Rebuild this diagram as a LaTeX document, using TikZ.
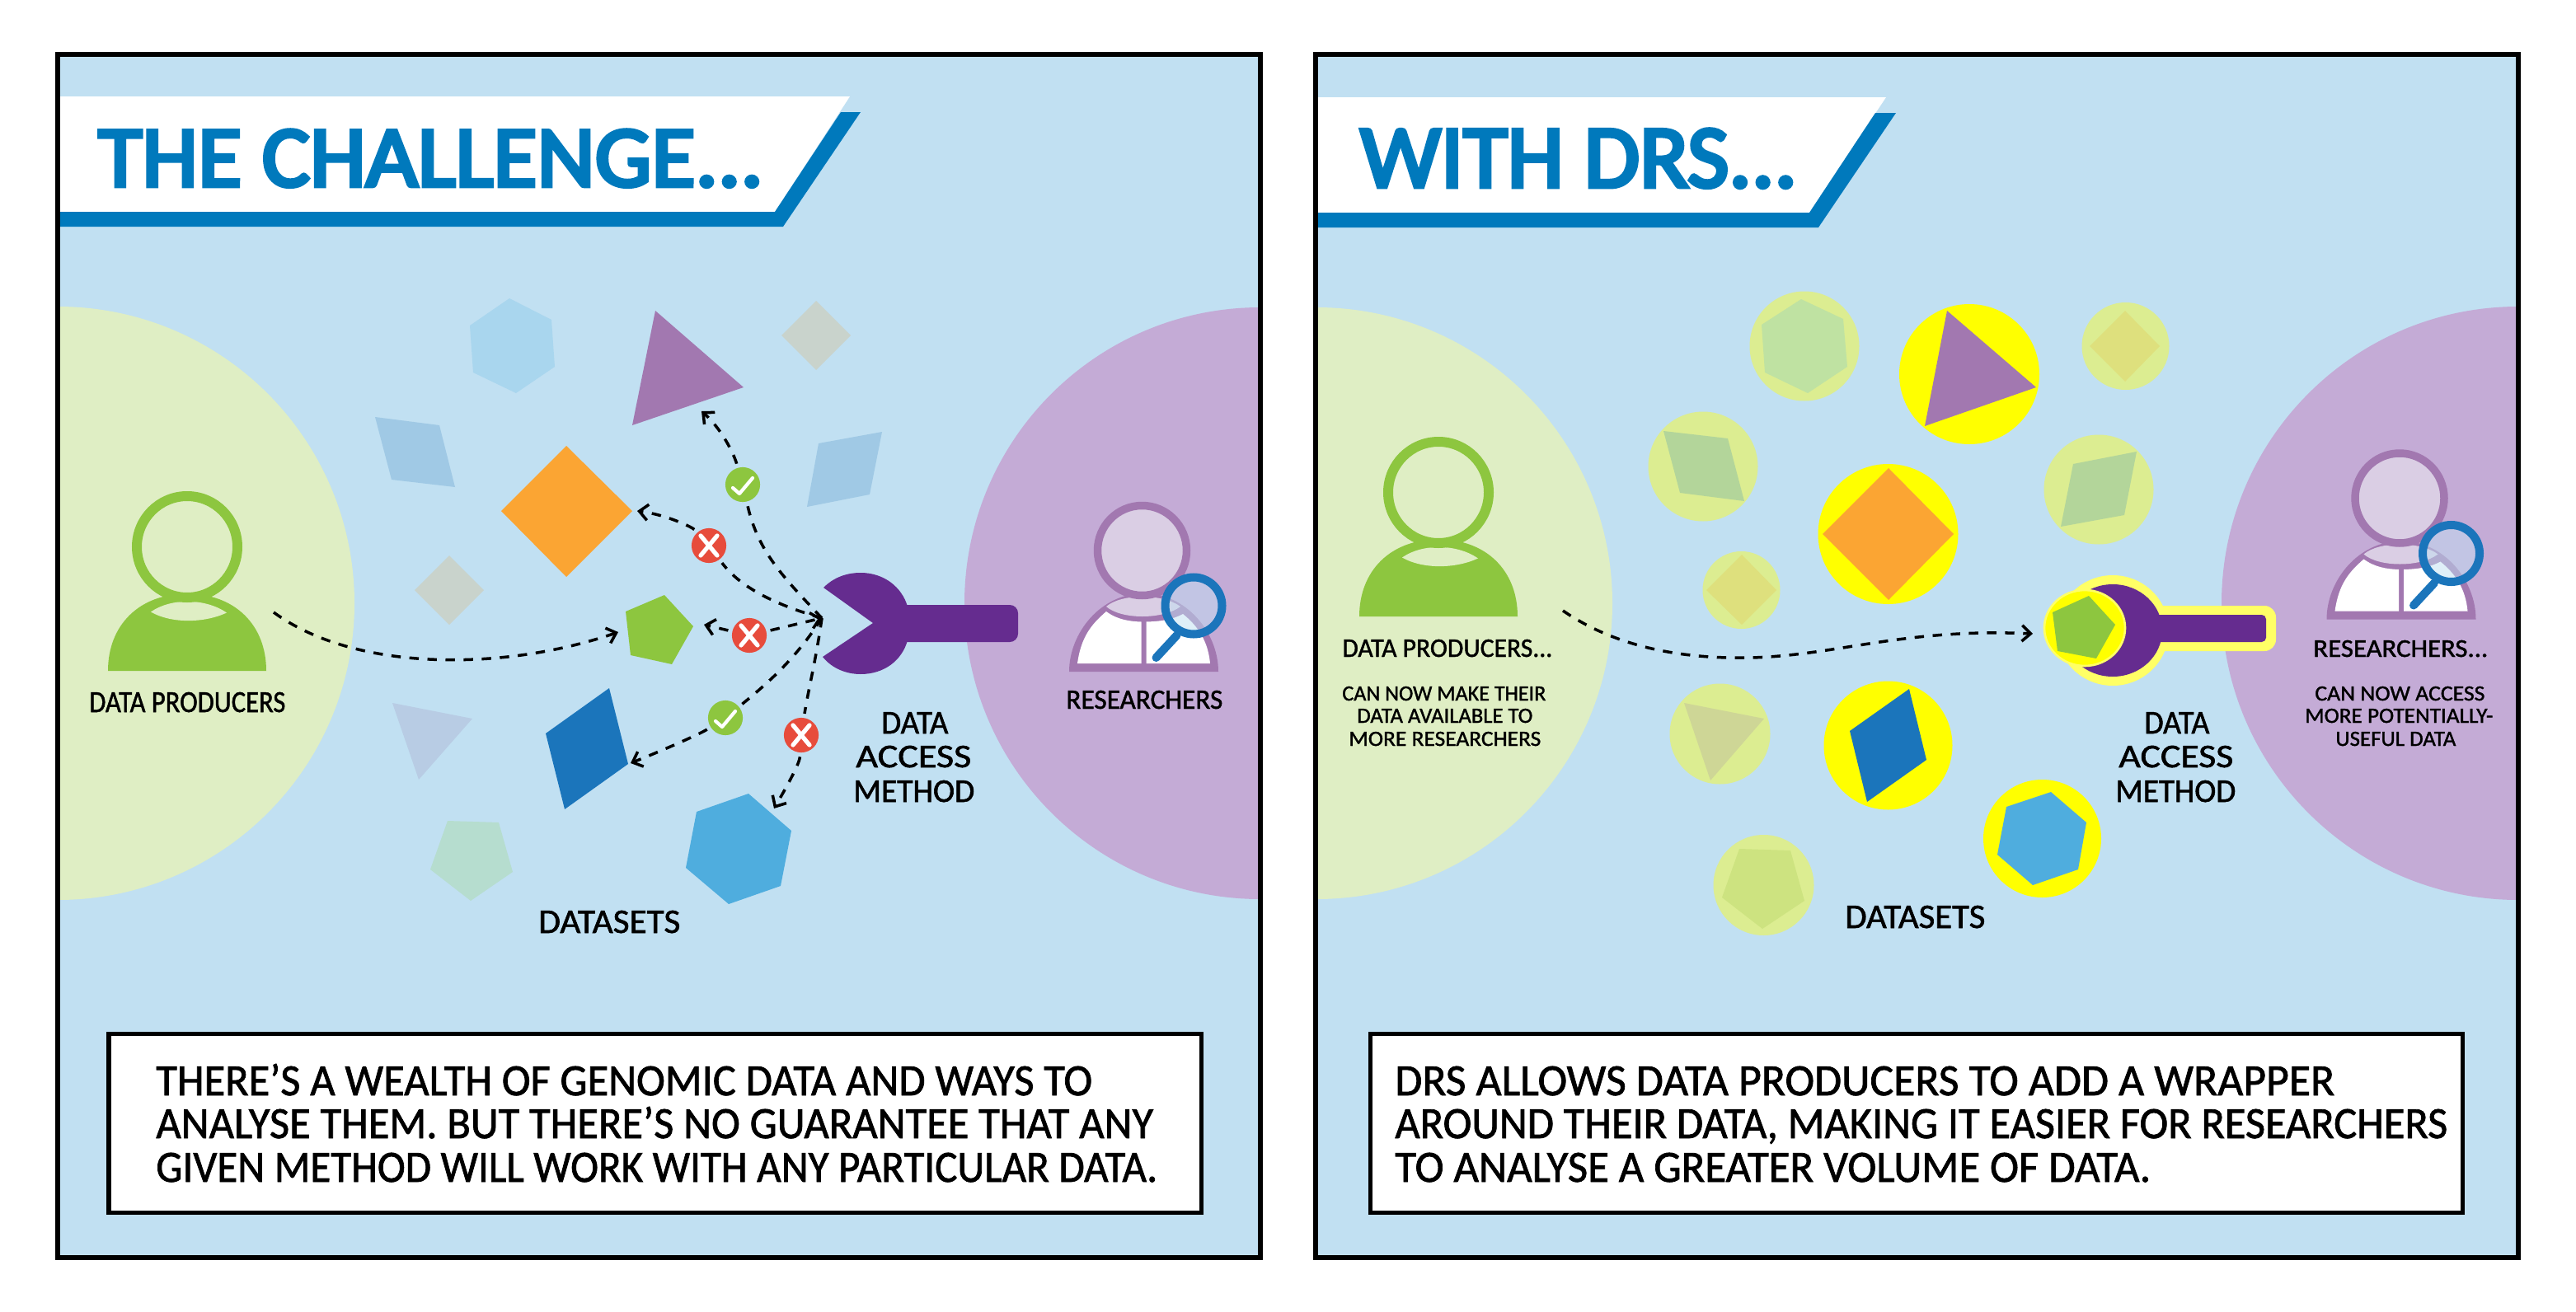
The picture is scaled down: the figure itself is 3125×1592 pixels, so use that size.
\documentclass[tikz,border=0pt]{standalone}
\usepackage{fontspec}
\usepackage{graphicx}
\usetikzlibrary{arrows.meta,calc}
\newfontfamily\titlefont[FakeBold=4.5]{Carlito}
\newfontfamily\labelfont[FakeBold=1.4]{Carlito}
\newdimen\ux \ux=0.56906pt
\newdimen\fsz
\definecolor{panelbg}{HTML}{C1E0F2}
\definecolor{barblue}{HTML}{0079BC}
\definecolor{greenzone}{HTML}{DFEEC4}
\definecolor{purplezone}{HTML}{C4ABD6}
\definecolor{prodgreen}{HTML}{8DC63F}
\definecolor{respurple}{HTML}{A278B0}
\definecolor{reslight}{HTML}{DACEE4}
\definecolor{lensblue}{HTML}{1B75BB}
\definecolor{wrenchc}{HTML}{652C8F}
\definecolor{orangec}{HTML}{FBA533}
\definecolor{hexc}{HTML}{4FADDE}
\definecolor{paleblue}{HTML}{A9D6EE}
\definecolor{palepara}{HTML}{A0C9E5}
\definecolor{palegrey}{HTML}{C9D3CC}
\definecolor{paletri}{HTML}{B8CCE4}
\definecolor{palepent}{HTML}{B6DDCF}
\definecolor{haloweak}{HTML}{DCED91}
\definecolor{halopale}{HTML}{FFFF66}
\definecolor{halofull}{HTML}{FFFF00}
\definecolor{errred}{HTML}{E74C3C}
\definecolor{wkhex}{HTML}{BFE2A2}
\definecolor{wkdia}{HTML}{DEE07D}
\definecolor{wkpara}{HTML}{B3D59A}
\definecolor{wktri}{HTML}{CED696}
\definecolor{wkpent}{HTML}{CDE380}
\newcommand\lab[4]{{\fsz=#2\ux \fsz=1.55\fsz
  \resizebox{#3\ux}{\height}{#1\fontsize{\the\fsz}{\the\fsz}\selectfont #4}}}
\newcommand\tx[6]{\node[anchor=base west,inner sep=0pt] (#1) at (#2,#3) {\lab{\labelfont}{#4}{#5}{#6}};}
\newcommand\producer[2]{\begin{scope}[shift={(#1,#2)}]
  \fill[prodgreen] (-96,150.5) .. controls (-96,95) and (-58,57) .. (0,57) .. controls (58,57) and (96,95) .. (96,150.5) -- cycle;
  \fill[greenzone] (-44,79) .. controls (-20,62) and (22,62) .. (48,80) .. controls (20,93) and (-20,93) .. cycle;
  \draw[prodgreen,line width=6.83pt,fill=greenzone] (0,0) ellipse [x radius=61,y radius=61.5];
\end{scope}}
\newcommand\researcher[2]{\begin{scope}[shift={(#1,#2)}]
  \fill[respurple] (-88.5,147) .. controls (-88.5,100) and (-50,52) .. (2,52) .. controls (54,52) and (92.5,100) .. (92.5,147) -- cycle;
  \fill[white] (-78.5,137) .. controls (-74,105) and (-62,90) .. (-43.5,74) .. controls (-30,84) and (-15,86) .. (-1,86.5) -- (-1,137) -- cycle;
  \fill[white] (5,86.5) .. controls (22,86) and (37,84) .. (49.5,77) .. controls (68,92) and (80,110) .. (82.5,137) -- (5,137) -- cycle;
  \fill[reslight] (-43.5,68) .. controls (-25,52) and (25,52) .. (46.5,68) .. controls (25,84) and (-25,84) .. cycle;
  \draw[respurple,line width=5.4pt,fill=reslight] (0,0) ellipse [x radius=54,y radius=54.5];
  \draw[lensblue,line width=5.7pt,line cap=round] (42,103) -- (17,130);
  \fill[panelbg,opacity=.5] (62.5,67) circle [radius=35];
  \draw[lensblue,line width=5.7pt] (62.5,67) ellipse [x radius=34.5,y radius=34.5];
\end{scope}}
\newcommand\chk[1]{\draw[white,line width=2.4pt,line cap=round,line join=round] ($(#1)+(-12,4)$) -- ($(#1)+(-4,11)$) -- ($(#1)+(12,-8)$);}
\newcommand\crs[1]{\draw[white,line width=3pt,line cap=round] ($(#1)+(-10,-12)$) -- ($(#1)+(10,12)$) ($(#1)+(10,-12)$) -- ($(#1)+(-10,12)$);}
\tikzset{
  badge/.style={circle,inner sep=0pt,minimum size=24pt,outer sep=3pt},
  okbadge/.style={badge,fill=prodgreen},
  nobadge/.style={badge,fill=errred},
  dashline/.style={draw=black,line width=2pt,dash pattern=on 6.5pt off 6pt},
  dasharrow/.style={dashline,-{Straight Barb[length=6pt,width=11pt,line width=2pt]}},
  framebox/.style={draw=black,line width=3.6pt},
  textbox/.style={draw=black,line width=2.85pt,fill=white,anchor=north west,inner sep=0pt,outer sep=0pt,minimum height=124pt,minimum width=754.5pt},
}
\begin{document}
\begin{tikzpicture}[x=0.02cm,y=-0.02cm]
\useasboundingbox (0,0) rectangle (3125,1592);
\fill[white] (0,0) rectangle (3125,1592);

%% ========== LEFT PANEL ==========
\fill[panelbg] (70,66) rectangle (1529,1526);
\begin{scope}
\clip (70,66) rectangle (1529,1526);
\fill[greenzone] (70,732) circle [radius=360];
\fill[purplezone] (1529,732) circle [radius=359];
\end{scope}
% banner
\fill[white] (73,117) -- (1031,117) -- (940,257) -- (73,257) -- cycle;
\fill[barblue] (73,257) -- (940,257) -- (1020,136) -- (1044,136) -- (950,275) -- (73,275) -- cycle;
\node[anchor=base west,inner sep=0pt,text=barblue] (titleL) at (119,226) {\lab{\titlefont}{68}{807}{THE CHALLENGE...}};
% pale datasets
\fill[paleblue] (618,362) -- (669,388) -- (673,445) -- (626,477) -- (574,452) -- (570,395) -- cycle;
\fill[palegrey] (990,365) -- (1032,407) -- (990,449) -- (948,407) -- cycle;
\fill[palepara] (455,506) -- (533,516) -- (552,591) -- (475,582) -- cycle;
\fill[palepara] (993,538) -- (1070,524) -- (1055,600) -- (979,615) -- cycle;
\fill[palegrey] (545,674) -- (587,716) -- (545,758) -- (503,716) -- cycle;
\fill[paletri] (476,853) -- (573,872) -- (508,946) -- cycle;
\fill[palepent] (543,996) -- (605,998) -- (622,1058) -- (571,1093) -- (522,1055) -- cycle;
% vivid datasets
\fill[respurple] (795,377) -- (902,470) -- (767,516) -- cycle;
\fill[orangec] (687,541) -- (767,620) -- (687,700) -- (608,620) -- cycle;
\fill[prodgreen] (759,742) -- (806,722) -- (841,760) -- (815,806) -- (765,795) -- cycle;
\fill[lensblue] (739,835) -- (762,927) -- (685,982) -- (662,890) -- cycle;
\fill[hexc] (908,963) -- (960,1008) -- (947,1075) -- (884,1097) -- (832,1053) -- (845,985) -- cycle;
% people
\producer{227}{663.5}
\researcher{1385.5}{668}
% wrench
\fill[wrenchc,rounded corners=5.7pt] (1090,734) rectangle (1235,779);
\fill[wrenchc] (999,713) .. controls (1012,700) and (1028,695) .. (1044,695) .. controls (1072,695) and (1094,712) .. (1101,736)
  -- (1101,777) .. controls (1094,802) and (1072,818) .. (1044,818) .. controls (1028,818) and (1010,812) .. (998,797) -- (1059,756) -- cycle;
% connectors
\coordinate (hubL) at (997,750);
\coordinate (prodStartL) at (332,743);
\coordinate (pentTipL) at (750,767);
\coordinate (tgtTri) at (851,499);
\coordinate (tgtOrange) at (773,620);
\coordinate (tgtPent) at (854,758);
\coordinate (tgtBlue) at (765,926);
\coordinate (tgtHex) at (939,981);
\node[okbadge] (ok1) at (901,588) {};
\node[nobadge] (no1) at (860,662) {};
\node[nobadge] (no2) at (909,771) {};
\node[okbadge] (ok2) at (880,871) {};
\node[nobadge] (no3) at (972,892) {};
\draw[dasharrow] (prodStartL) .. controls (430,815) and (610,815) .. (pentTipL);
\draw[dashline] (hubL) .. controls (950,700) and (920,670) .. (ok1);
\draw[dasharrow] (ok1) .. controls (890,550) and (875,520) .. (tgtTri);
\draw[dasharrow] (no1) .. controls (840,640) and (810,625) .. (tgtOrange);
\draw[dashline] (hubL) .. controls (945,735) and (900,715) .. (no1);
\draw[dasharrow] (no2) -- (tgtPent);
\draw[dasharrow] (no2) -- (hubL);
\draw[dashline] (hubL) .. controls (965,800) and (930,830) .. (ok2);
\draw[dasharrow] (ok2) .. controls (850,890) and (810,908) .. (tgtBlue);
\draw[dashline] (hubL) .. controls (990,800) and (980,840) .. (no3);
\draw[dasharrow] (no3) .. controls (970,925) and (960,945) .. (tgtHex);
\chk{ok1}\chk{ok2}\crs{no1}\crs{no2}\crs{no3}
% labels
\tx{prodL}{108}{864}{24}{238}{DATA PRODUCERS}
\tx{resL}{1293}{860}{22}{190}{RESEARCHERS}
\tx{damL1}{1069}{890}{26}{81}{DATA}
\tx{damL2}{1038}{931}{26}{140}{ACCESS}
\tx{damL3}{1035}{973}{26}{147}{METHOD}
\tx{dsL}{653}{1132}{27}{172}{DATASETS}
% statement
\node[textbox] (boxL) at (132,1254) {};
\tx{bL1}{189}{1329}{35}{1136}{THERE’S A WEALTH OF GENOMIC DATA AND WAYS TO}
\tx{bL2}{189}{1381}{35}{1210}{ANALYSE THEM. BUT THERE’S NO GUARANTEE THAT ANY}
\tx{bL3}{189}{1434}{35}{1215}{GIVEN METHOD WILL WORK WITH ANY PARTICULAR DATA.}
\draw[framebox] (70,66) rectangle (1529,1526);

%% ========== RIGHT PANEL ==========
\fill[panelbg] (1596,66) rectangle (3055,1526);
\begin{scope}
\clip (1596,66) rectangle (3055,1526);
\fill[greenzone] (1597,732) circle [radius=359];
\fill[purplezone] (3055,732) circle [radius=360];
\end{scope}
\fill[white] (1598,118) -- (2288,118) -- (2195,258) -- (1598,258) -- cycle;
\fill[barblue] (1598,258) -- (2195,258) -- (2275,137) -- (2300,137) -- (2206,276) -- (1598,276) -- cycle;
\node[anchor=base west,inner sep=0pt,text=barblue] (titleR) at (1650,227) {\lab{\titlefont}{70}{530}{WITH DRS...}};
% halos
\fill[haloweak] (2189,420) circle [radius=66.5];
\fill[haloweak] (2578.5,420) circle [radius=53];
\fill[haloweak] (2066,566) circle [radius=66.5];
\fill[haloweak] (2546,594) circle [radius=66.5];
\fill[haloweak] (2112.5,716) circle [radius=47];
\fill[haloweak] (2086.5,890.5) circle [radius=61];
\fill[haloweak] (2139.5,1074) circle [radius=61];
\fill[halofull] (2389,454) circle [radius=85];
\fill[halofull] (2290.5,648) circle [radius=85];
\fill[halofull] (2290.5,904.5) circle [radius=78];
\fill[halofull] (2477.5,1017.5) circle [radius=71.5];
% shapes
\fill[wkhex] (2185,363) -- (2236,387) -- (2241,445) -- (2193,477) -- (2141,452) -- (2137,394) -- cycle;
\fill[wkdia] (2578,377) -- (2620,420) -- (2578,463) -- (2535,420) -- cycle;
\fill[wkpara] (2018,523) -- (2096,532) -- (2116,608) -- (2038,598) -- cycle;
\fill[wkpara] (2515,563) -- (2592,548) -- (2577,625) -- (2500,639) -- cycle;
\fill[wkdia] (2113,673) -- (2155,716) -- (2113,758) -- (2070,716) -- cycle;
\fill[wktri] (2043,853) -- (2140,872) -- (2075,947) -- cycle;
\fill[wkpent] (2110,1030) -- (2172,1032) -- (2189,1093) -- (2138,1127) -- (2089,1089) -- cycle;
\fill[respurple] (2362,377) -- (2470,470) -- (2335,517) -- cycle;
\fill[orangec] (2291,568) -- (2370,648) -- (2291,728) -- (2211,648) -- cycle;
\fill[lensblue] (2316,836) -- (2337,922) -- (2265,973) -- (2244,887) -- cycle;
\fill[hexc] (2488,961) -- (2531,998) -- (2521,1055) -- (2466,1074) -- (2423,1037) -- (2434,979) -- cycle;
% people
\producer{1745}{597.5}
\researcher{2911}{604.5}
% wrapped wrench
\fill[halopale,rounded corners=8pt] (2600,735) rectangle (2761,790);
\fill[halopale] (2563,765) ellipse [x radius=68,y radius=67];
\fill[wrenchc,rounded corners=3pt] (2600,746) rectangle (2749,779);
\fill[wrenchc] (2563,765) ellipse [x radius=60,y radius=56];
\draw[halopale,line width=1.5pt,fill=halofull] (2529,762) ellipse [x radius=49,y radius=46];
\fill[prodgreen] (2490,743) -- (2534,723) -- (2566,758) -- (2543,799) -- (2496,790) -- cycle;
% connector
\coordinate (prodStartR) at (1896,741);
\coordinate (midR) at (2125,798);
\coordinate (tipR) at (2466,769);
\draw[dasharrow] (prodStartR) .. controls (1960,785) and (2040,800) .. (midR) .. controls (2230,795) and (2310,762) .. (tipR);
% labels
\tx{prodR}{1628}{797}{21}{255}{DATA PRODUCERS...}
\tx{prodR1}{1628}{850}{17}{247}{CAN NOW MAKE THEIR}
\tx{prodR2}{1646}{877}{17}{213}{DATA AVAILABLE TO}
\tx{prodR3}{1636}{905}{17}{233}{MORE RESEARCHERS}
\tx{resR}{2806}{797}{20}{212}{RESEARCHERS...}
\tx{resR1}{2808}{850}{17}{206}{CAN NOW ACCESS}
\tx{resR2}{2796}{877}{17}{228}{MORE POTENTIALLY-}
\tx{resR3}{2833}{905}{17}{146}{USEFUL DATA}
\tx{damR1}{2601}{890}{26}{79}{DATA}
\tx{damR2}{2570}{931}{26}{139}{ACCESS}
\tx{damR3}{2566}{973}{26}{146}{METHOD}
\tx{dsR}{2238}{1126}{27}{170}{DATASETS}
\node[textbox] (boxR) at (1662,1254) {};
\tx{bR1}{1692}{1329}{35}{1140}{DRS ALLOWS DATA PRODUCERS TO ADD A WRAPPER}
\tx{bR2}{1692}{1381}{35}{1277}{AROUND THEIR DATA, MAKING IT EASIER FOR RESEARCHERS}
\tx{bR3}{1692}{1434}{35}{917}{TO ANALYSE A GREATER VOLUME OF DATA.}
\draw[framebox] (1596,66) rectangle (3055,1526);
\end{tikzpicture}
\end{document}
